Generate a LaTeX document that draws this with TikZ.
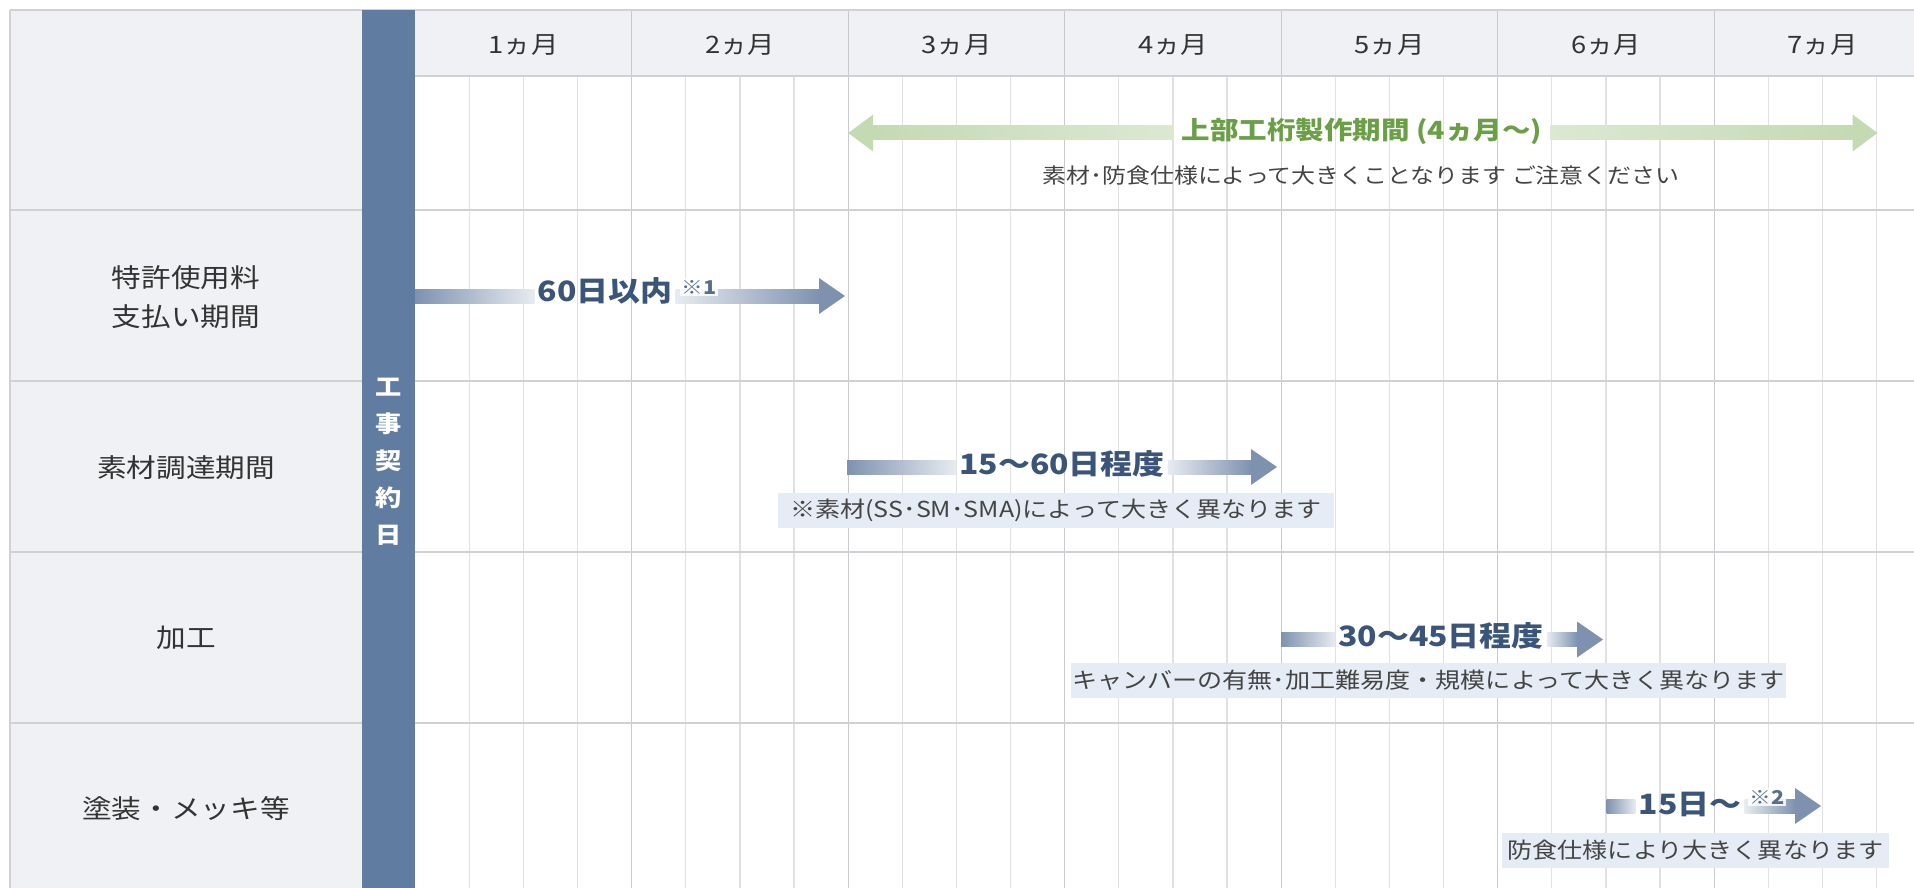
\documentclass[tikz,border=0pt]{standalone}
\usepackage{fontspec}
\setmainfont{Noto Sans CJK JP}[FakeStretch=1.14]
\usetikzlibrary{calc}
\definecolor{colbg}{HTML}{EFF1F4}
\definecolor{gridH}{HTML}{D0D1D4}
\definecolor{gridM}{HTML}{C8CACD}
\definecolor{gridW}{HTML}{E0E1E3}
\definecolor{barblue}{HTML}{607CA0}
\definecolor{abl}{HTML}{7E92B0}
\definecolor{barTxt}{HTML}{3A5579}
\definecolor{agr}{HTML}{C4DAB3}
\definecolor{grTxt}{HTML}{6A9F45}
\definecolor{notebg}{HTML}{E6ECF5}
\definecolor{txtgray}{HTML}{333333}
\definecolor{noteTxt}{HTML}{444444}
\tikzset{
  lbl/.style={font=\fontsize{26}{38.5}\selectfont, text=txtgray, align=center},
  mon/.style={font=\fontsize{24}{28}\selectfont, text=txtgray},
  barlbl/.style={font=\bfseries\fontsize{28}{32}\selectfont, text=barTxt, inner sep=0},
  note/.style={fill=notebg, font=\fontsize{22}{26}\selectfont, text=noteTxt, minimum height=35, inner sep=0},
  kome/.style={font=\bfseries\fontsize{19}{22}\selectfont, text=barTxt!85, fill=white, fill opacity=.85, text opacity=1, inner sep=2},
}
\newcommand\shaftL[3]{\shade[left color=#3, right color=#3!18] ($(#1)+(0,-7)$) rectangle ($(#2.west |- #1)+(-3,7)$);}
\newcommand\shaftR[4]{\shade[left color=#4!18, right color=#4] ($(#2.east |- #1)+(3,-7)$) rectangle ($(#3)+(-26,7)$);
  \fill[#4] ($(#3)+(-26,-18)$) -- (#3) -- ($(#3)+(-26,18)$) -- cycle;}
\begin{document}
\begin{tikzpicture}[x=1pt,y=-1pt]
\useasboundingbox (0,0) rectangle (1914,888);
\fill[white] (0,0) rectangle (1914,888);
% backgrounds
\fill[colbg] (10,10) rectangle (362,888);
\fill[colbg] (415,10) rectangle (1914,76);
% week lines
\foreach \j in {1,...,27} {
  \draw[gridW, line width=1.2] ({415.2+54.125*\j},76) -- ({415.2+54.125*\j},888);
}
% month lines
\foreach \k in {1,...,6} {
  \draw[gridM, line width=1.4] ({415.2+216.5*\k},10) -- ({415.2+216.5*\k},888);
}
% horizontal lines
\draw[gridH, line width=1.6] (10,10) -- (1914,10);
\draw[gridH, line width=1.6] (10,10) -- (10,888);
\draw[gridH, line width=1.4] (415,76) -- (1914,76);
\foreach \yy in {210,381,552,723} {
  \draw[gridH, line width=1.6] (10,\yy) -- (1914,\yy);
}
% contract day bar
\fill[barblue] (362,10) rectangle (415.2,888);
\node[font=\bfseries\fontsize{23}{37}\selectfont, text=white, align=center] (kyd) at (388.5,462) {工\\事\\契\\約\\日};
% month headers
\foreach \k in {1,...,7} {
  \node[mon] (m\k) at ({415.2+216.5*(\k-0.5)},45) {\k{}ヵ月};
}
% row labels
\node[lbl] (r1) at (186,297) {特許使用料\\支払い期間};
\node[lbl] (r2) at (186,468) {素材調達期間};
\node[lbl] (r3) at (186,638) {加工};
\node[lbl] (r4) at (186,809) {塗装・メッキ等};

% green arrow (top row)
\coordinate (gL) at (848.2,133);
\coordinate (gR) at (1877.5,133);
\node[font=\bfseries\fontsize{25}{30}\selectfont, text=grTxt, inner sep=0] (gt) at (1362,131) {上部工桁製作期間 (4ヵ月～)};
\node[font=\fontsize{21}{25}\selectfont, text=noteTxt, inner sep=0] (gs) at (1361,176) {素材･防食仕様によって大きくことなります ご注意ください};
\shade[left color=agr, right color=agr!60] ($(gL)+(25,-7)$) rectangle ($(gt.west |- gL)+(-8,7)$);
\fill[agr] ($(gL)+(25,-18.5)$) -- (gL) -- ($(gL)+(25,18.5)$) -- cycle;
\shade[left color=agr!60, right color=agr] ($(gt.east |- gR)+(8,-7)$) rectangle ($(gR)+(-25,7)$);
\fill[agr] ($(gR)+(-25,-18.5)$) -- (gR) -- ($(gR)+(-25,18.5)$) -- cycle;

% row 1 arrow
\coordinate (a1s) at (415.2,296);
\coordinate (a1e) at (845,296);
\node[barlbl] (t1) at (605,291) {60日以内};
\shaftL{a1s}{t1}{abl}
\shaftR{a1s}{t1}{a1e}{abl}
\node[kome] (k1) at (699,287) {※1};

% row 2 arrow
\coordinate (a2s) at (847,467);
\coordinate (a2e) at (1277,467);
\node[barlbl] (t2) at (1062,464) {15～60日程度};
\shaftL{a2s}{t2}{abl}
\shaftR{a2s}{t2}{a2e}{abl}
\node[note, minimum width=556] (n2) at (1056,510.5) {※素材(SS･SM･SMA)によって大きく異なります};

% row 3 arrow
\coordinate (a3s) at (1281.2,639.5);
\coordinate (a3e) at (1603,639.5);
\node[barlbl] (t3) at (1441,636) {30～45日程度};
\shaftL{a3s}{t3}{abl}
\shaftR{a3s}{t3}{a3e}{abl}
\node[note, minimum width=715] (n3) at (1428.5,680.5) {キャンバーの有無･加工難易度・規模によって大きく異なります};

% row 4 arrow
\coordinate (a4s) at (1606.5,806);
\coordinate (a4e) at (1821,806);
\node[barlbl] (t4) at (1690,804) {15日～};
\shaftL{a4s}{t4}{abl}
\shaftR{a4s}{t4}{a4e}{abl}
\node[kome] (k2) at (1767,797) {※2};
\node[note, minimum width=387] (n4) at (1695.5,850.5) {防食仕様により大きく異なります};
\end{tikzpicture}
\end{document}
